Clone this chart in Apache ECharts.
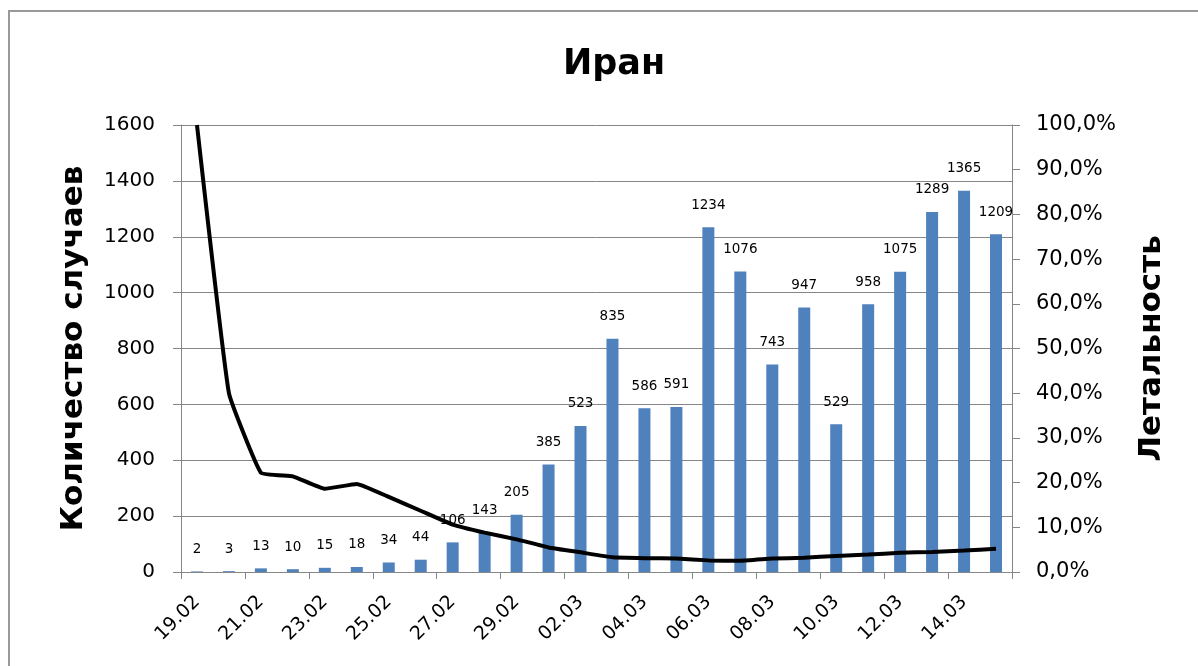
<!DOCTYPE html>
<html>
<head>
<meta charset="utf-8">
<script src="https://cdn.jsdelivr.net/npm/echarts@6/dist/echarts.min.js"></script>
<style>
html,body{margin:0;padding:0;background:#fff;}
#frame{position:absolute;left:8px;top:10px;width:1200px;height:700px;border-left:2px solid #999;border-top:2px solid #999;}
#chart{position:absolute;left:0;top:0;width:1198px;height:666px;}
</style>
</head>
<body>
<div id="frame"></div>
<div id="chart"></div>
<script>
const categories = ["19.02","20.02","21.02","22.02","23.02","24.02","25.02","26.02","27.02","28.02","29.02",
  "01.03","02.03","03.03","04.03","05.03","06.03","07.03","08.03","09.03","10.03","11.03","12.03","13.03","14.03","15.03"];
const cases = [2,3,13,10,15,18,34,44,106,143,205,385,523,835,586,591,1234,1076,743,947,529,958,1075,1289,1365,1209];
const lethality = [100,40,22.2,21.4,18.6,19.7,16.8,13.7,10.6,8.8,7.3,5.5,4.4,3.3,3.1,3.0,2.6,2.5,3.0,3.2,3.6,3.9,4.3,4.5,4.8,5.2];
const leftTicks = [0,1600,200];
const rightTicks = [0,100,10];

const chart = echarts.init(document.getElementById('chart'));
const FONT = 'DejaVu Sans';
chart.setOption({
  animation:false,
  backgroundColor:'transparent',
  textStyle:{fontFamily:FONT},
  title:{text:'Иран',top:42,left:558,textStyle:{fontFamily:FONT,fontWeight:'bold',fontSize:35,color:'#000'}},
  grid:{left:181,right:186,top:125,bottom:94},
  xAxis:{type:'category',data:categories,boundaryGap:true,
    axisLine:{lineStyle:{color:'#868686',width:1}},
    axisTick:{show:true,interval:1,length:7,lineStyle:{color:'#868686'}},
    axisLabel:{interval:1,rotate:45,fontSize:19,color:'#000',margin:27,fontFamily:FONT}},
  yAxis:[
    {type:'value',min:leftTicks[0],max:leftTicks[1],interval:leftTicks[2],
     name:'Количество случаев',nameLocation:'middle',nameGap:92,nameRotate:90,
     nameTextStyle:{fontSize:31,fontWeight:'bold',color:'#000',fontFamily:FONT},
     axisLine:{show:true,lineStyle:{color:'#868686'}},
     axisTick:{show:true,length:8,lineStyle:{color:'#868686'}},
     axisLabel:{fontSize:20,color:'#000',margin:26,fontFamily:FONT,formatter:v=>String(v)},
     splitLine:{show:true,lineStyle:{color:'#868686',width:1}}},
    {type:'value',min:rightTicks[0],max:rightTicks[1],interval:rightTicks[2],position:'right',
     name:'Летальность',nameLocation:'middle',nameGap:124,nameRotate:90,
     nameTextStyle:{fontSize:31,fontWeight:'bold',color:'#000',fontFamily:FONT},
     axisLine:{show:true,lineStyle:{color:'#868686'}},
     axisTick:{show:true,length:8,lineStyle:{color:'#868686'}},
     axisLabel:{fontSize:21,color:'#000',margin:24,fontFamily:FONT,
       formatter:v=>v.toFixed(1).replace('.',',')+'%'},
     splitLine:{show:false}}
  ],
  series:[
    {type:'bar',data:cases,yAxisIndex:0,barWidth:12,itemStyle:{color:'#4F81BD'},
     label:{show:true,position:'top',distance:15,fontSize:13.5,color:'#000',fontFamily:FONT}},
    {type:'line',data:lethality,yAxisIndex:1,smooth:0.1,symbol:'none',
     lineStyle:{color:'#000',width:4},z:5}
  ]
});
</script>
</body>
</html>
